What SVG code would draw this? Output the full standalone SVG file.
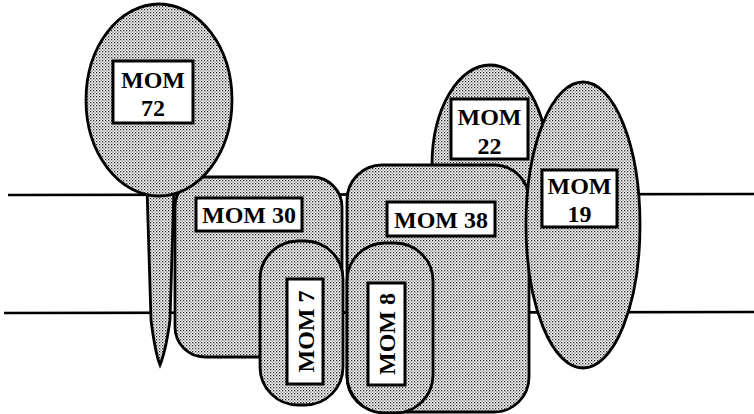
<svg xmlns="http://www.w3.org/2000/svg" width="754" height="414" viewBox="0 0 754 414">
<defs>
<pattern id="dots" width="3" height="3" patternUnits="userSpaceOnUse">
<rect width="3" height="3" fill="#ffffff"/>
<rect x="0" y="0" width="1.3" height="1.3" fill="#222"/>
<rect x="1.5" y="1.5" width="1.2" height="1.2" fill="#555"/>
</pattern>
</defs>
<style>
.shape{fill:url(#dots);stroke:#000;stroke-width:2.8}
.lbl{fill:#fff;stroke:#000;stroke-width:3}
.t{font-family:"Liberation Serif","Times New Roman",serif;font-weight:bold;font-size:24px;text-anchor:middle;fill:#000}
.mem{stroke:#000;stroke-width:2.6;fill:none}
</style>
<g id="membrane">
<line class="mem" x1="8" y1="195" x2="754" y2="194"/>
<line class="mem" x1="4" y1="313" x2="754" y2="312"/>
</g>
<g id="mom72-tail">
<path class="shape" d="M147,188 L151,320 Q155,352 160,365 Q166,350 170,320 L174,188 Z"/>
</g>
<g id="mom30">
<rect class="shape" x="175" y="177" width="167" height="180" rx="30"/>
<rect class="lbl" x="196" y="198" width="106" height="33"/>
<text class="t" x="249" y="222.5">MOM 30</text>
</g>
<g id="mom72">
<ellipse class="shape" cx="159" cy="100" rx="73" ry="96"/>
<rect class="lbl" x="113" y="61" width="80" height="62"/>
<text class="t" x="153" y="88">MOM</text>
<text class="t" x="153" y="116">72</text>
</g>
<g id="mom7">
<rect class="shape" x="260" y="241" width="83" height="164" rx="38"/>
<rect class="lbl" x="287" y="279" width="36" height="105"/>
<text class="t" transform="translate(313.5,331.5) rotate(-90)" x="0" y="0">MOM 7</text>
</g>
<g id="mom22">
<ellipse class="shape" cx="490" cy="165" rx="58" ry="100"/>
<rect class="lbl" x="451" y="99" width="77" height="60"/>
<text class="t" x="489.5" y="125">MOM</text>
<text class="t" x="489.5" y="154">22</text>
</g>
<g id="mom38">
<rect class="shape" x="347" y="165" width="182" height="247" rx="35"/>
<rect class="lbl" x="387" y="202" width="108" height="34"/>
<text class="t" x="441" y="227.5">MOM 38</text>
</g>
<g id="mom8">
<rect class="shape" x="347" y="243" width="86" height="170" rx="38"/>
<rect class="lbl" x="368" y="283" width="37" height="102"/>
<text class="t" transform="translate(395,334) rotate(-90)" x="0" y="0">MOM 8</text>
</g>
<g id="mom19">
<ellipse class="shape" cx="583" cy="225" rx="57" ry="143"/>
<rect class="lbl" x="542" y="170" width="75" height="57"/>
<text class="t" x="579.5" y="194">MOM</text>
<text class="t" x="579.5" y="222">19</text>
</g>
</svg>
